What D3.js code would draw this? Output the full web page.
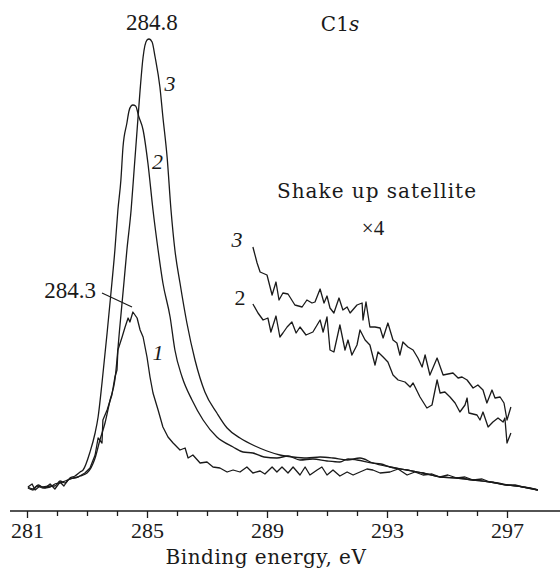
<!DOCTYPE html>
<html lang="en">
<head>
<meta charset="UTF-8">
<title>C1s spectra</title>
<script src="https://cdnjs.cloudflare.com/ajax/libs/d3/7.8.5/d3.min.js"></script>
<style>
  body { margin: 0; background: #fff; }
  svg { display: block; }
  text { font-family: 'Liberation Serif', serif; fill: #1a1a1a; }
  .words { font-family: 'DejaVu Serif', serif; }
  .trace { fill: none; stroke: #1a1a1a; stroke-width: 1.3; stroke-linejoin: round; }
</style>
</head>
<body>
<div id="chart"></div>
<script>
// binding energy (eV), intensity (arb. units)
const curve1 = [
  [281.03,1.3],[281.17,1.6],[281.27,1.0],[281.43,1.4],[281.60,1.2],[281.77,1.6],[281.93,1.1],
  [282.10,1.8],[282.23,1.4],[282.37,2.0],[282.53,2.2],[282.70,2.3],[282.93,2.7],[283.10,3.2],
  [283.27,4.5],[283.37,6.2],[283.50,5.7],[283.53,8.0],[283.67,9.0],[283.83,10.5],[283.93,12.3],
  [284.00,13.0],[284.03,15.0],[284.17,16.3],[284.27,17.3],[284.37,18.2],[284.43,17.8],[284.53,18.8],
  [284.67,18.2],[284.77,17.0],[284.87,16.3],[285.00,14.3],[285.10,12.3],[285.20,10.7],[285.37,9.0],
  [285.53,7.3],[285.70,6.3],[285.87,5.7],[286.10,5.0],[286.27,5.2],[286.37,4.2],[286.53,4.5],
  [286.77,3.7],[287.00,3.8],[287.20,3.3],[287.43,3.2],[287.67,2.8],[287.87,3.0],[288.10,2.8],
  [288.33,3.3],[288.53,2.7],[288.77,2.9],[288.93,2.6],[289.17,3.3],[289.33,2.8],[289.50,3.3],
  [289.70,2.7],[289.87,3.3],[290.10,2.5],[290.27,3.3],[290.43,2.5],[290.67,3.0],[290.83,3.3],
  [291.00,2.5],[291.20,3.0],[291.43,2.4],[291.67,2.8],[291.87,2.5],[292.10,2.8],[292.33,3.1],
  [292.53,3.0],[292.77,2.7],[293.10,2.8],[293.37,3.1],[293.67,2.5],[293.93,2.8],[294.20,2.5],
  [294.50,2.6],[294.77,2.3],[295.03,2.5],[295.33,2.2],[295.60,2.3],[295.87,2.0],[296.17,2.1],
  [296.43,1.8],[296.70,1.7],[297.00,1.5],[297.27,1.5],[297.53,1.3],[297.77,1.2],[298.03,1.0]
];

const curve2 = [
  [281.03,1.2],[281.20,1.0],[281.37,1.5],[281.53,1.3],[281.77,1.4],[281.93,1.4],[282.10,1.9],
  [282.27,1.7],[282.43,2.2],[282.60,2.4],[282.77,2.8],[282.87,3.0],[283.10,4.8],[283.27,6.7],
  [283.37,8.3],[283.50,11.7],[283.67,16.7],[283.83,21.7],[283.93,25.0],[284.03,29.0],[284.13,32.0],
  [284.20,35.3],[284.33,37.7],[284.40,38.9],[284.47,39.4],[284.53,39.5],[284.62,39.4],[284.73,38.3],
  [284.87,37.0],[285.03,33.7],[285.20,29.0],[285.37,25.0],[285.53,21.7],[285.77,18.3],[285.93,15.0],
  [286.17,12.3],[286.50,10.0],[286.87,8.0],[287.33,6.3],[287.87,5.3],[288.20,4.8],[288.53,4.7],
  [288.90,4.3],[289.33,4.2],[289.70,4.4],[290.10,4.0],[290.53,4.1],[291.00,3.9],[291.43,3.8],
  [291.70,4.1],[292.00,4.0],[292.53,3.7],[292.80,3.6],[293.10,3.3],[293.67,3.0],[294.20,2.7],
  [294.77,2.3],[295.33,2.2],[295.87,2.0],[296.43,1.8],[297.00,1.5],[297.53,1.3],[298.03,1.0]
];

const curve3 = [
  [281.03,1.3],[281.20,1.1],[281.33,1.4],[281.53,1.2],[281.77,1.3],[281.93,1.6],[282.10,1.7],
  [282.27,1.9],[282.43,2.1],[282.60,2.2],[282.77,2.4],[283.00,2.7],[283.27,4.2],[283.43,6.0],
  [283.60,7.7],[283.77,10.0],[283.93,12.0],[284.10,17.5],[284.23,21.7],[284.33,25.0],[284.47,29.0],
  [284.57,33.0],[284.67,37.0],[284.77,41.0],[284.87,44.3],[285.00,46.0],[285.07,46.1],[285.17,45.8],
  [285.27,44.3],[285.43,41.3],[285.53,38.3],[285.67,34.3],[285.80,29.0],[285.93,25.0],[286.10,21.7],
  [286.33,17.7],[286.60,14.0],[286.93,10.8],[287.33,8.7],[287.67,7.2],[288.10,6.2],[288.60,5.4],
  [289.00,4.9],[289.43,4.5],[289.87,4.3],[290.33,4.2],[290.77,4.3],[291.20,4.2],[291.67,4.0],
  [292.10,4.2],[292.53,3.7],[293.10,3.3],[293.67,3.0],[294.20,2.7],[294.77,2.3],[295.33,2.2],
  [295.87,2.0],[296.43,1.8],[297.00,1.5],[297.53,1.3],[298.03,1.0]
];

// shake-up satellite region, shown x4
const sat2 = [
  [288.53,19.6],[288.70,18.7],[288.87,18.0],[289.03,18.2],[289.13,16.8],[289.30,18.4],[289.43,16.3],
  [289.53,16.7],[289.67,17.3],[289.83,17.8],[289.97,16.7],[290.10,17.3],[290.30,16.5],[290.53,16.8],
  [290.77,18.0],[290.87,16.8],[291.00,18.3],[291.10,15.0],[291.23,14.8],[291.43,17.5],[291.60,15.0],
  [291.70,16.0],[291.83,14.5],[292.00,15.5],[292.10,17.0],[292.27,16.0],[292.43,15.5],[292.60,13.5],
  [292.70,14.8],[292.87,14.3],[293.03,13.8],[293.20,12.5],[293.37,12.0],[293.60,11.8],[293.77,11.3],
  [293.87,11.7],[294.10,10.3],[294.33,9.2],[294.50,9.5],[294.67,12.0],[294.77,10.7],[294.93,10.8],
  [295.10,10.3],[295.27,9.7],[295.43,8.8],[295.60,9.5],[295.67,10.2],[295.73,8.7],[296.00,8.5],
  [296.10,8.0],[296.20,8.8],[296.37,7.3],[296.53,7.8],[296.70,8.2],[296.87,7.8],[296.93,8.2],
  [297.00,5.7],[297.13,6.7]
];

const sat3 = [
  [288.53,25.3],[288.67,23.7],[288.77,22.8],[289.00,22.5],[289.17,20.5],[289.30,21.8],[289.40,20.0],
  [289.53,20.7],[289.70,20.6],[289.93,19.5],[290.17,19.3],[290.33,20.0],[290.50,19.7],[290.60,19.8],
  [290.77,21.1],[290.90,19.7],[291.00,20.4],[291.10,19.2],[291.23,18.7],[291.40,20.2],[291.53,19.0],
  [291.67,19.3],[291.77,18.7],[292.00,19.5],[292.17,19.7],[292.20,18.0],[292.30,19.8],[292.43,17.3],
  [292.60,17.3],[292.77,17.2],[292.87,16.2],[293.03,17.7],[293.20,16.0],[293.33,15.7],[293.43,14.5],
  [293.53,15.8],[293.70,15.3],[293.87,15.0],[294.03,14.2],[294.17,13.3],[294.27,14.5],[294.43,12.5],
  [294.67,14.2],[294.87,12.5],[295.20,12.7],[295.37,12.2],[295.50,12.3],[295.67,12.0],[295.87,11.2],
  [296.03,11.5],[296.20,11.0],[296.33,9.7],[296.50,11.0],[296.60,10.2],[296.77,10.3],[296.90,9.7],
  [297.00,8.0],[297.13,9.3]
];

const xTicks = d3.range(281, 298, 1);
const xLabels = [281, 285, 289, 293, 297];

const width = 560, height = 568;
const svg = d3.select("#chart").append("svg")
  .attr("width", width)
  .attr("height", height);

const x = d3.scaleLinear().domain([281, 297]).range([27, 507]);
const y = d3.scaleLinear().domain([0, 47]).range([500, 30]);
const axisY = 511;

// axis
svg.append("line")
  .attr("x1", 10).attr("x2", width)
  .attr("y1", axisY).attr("y2", axisY)
  .attr("stroke", "#1a1a1a").attr("stroke-width", 1.3);

const xAxis = d3.axisBottom(x)
  .tickValues(xTicks)
  .tickSize(6)
  .tickFormat(d => xLabels.includes(d) ? d : "");

const gx = svg.append("g")
  .attr("transform", `translate(0,${axisY})`)
  .call(xAxis);
gx.select(".domain").remove();
gx.selectAll(".tick line").attr("stroke", "#1a1a1a").attr("stroke-width", 1.3)
  .attr("y2", d => xLabels.includes(d) ? 7 : 5);
gx.selectAll(".tick text")
  .attr("y", 27).attr("dy", 0)
  .style("font-family", "'Liberation Serif', serif")
  .style("font-size", "22px")
  .attr("fill", "#1a1a1a");

svg.append("text")
  .attr("class", "words")
  .attr("x", 266).attr("y", 564)
  .attr("text-anchor", "middle")
  .style("font-size", "20px")
  .style("letter-spacing", "0.5px")
  .text("Binding energy, eV");

// traces
const lineLin = d3.line().x(d => x(d[0])).y(d => y(d[1]));
const lineSmooth = d3.line().x(d => x(d[0])).y(d => y(d[1])).curve(d3.curveMonotoneX);

svg.append("path").datum(curve1).attr("class", "trace").attr("d", lineLin);
svg.append("path").datum(curve2).attr("class", "trace").attr("d", lineSmooth);
svg.append("path").datum(curve3).attr("class", "trace").attr("d", lineSmooth);
svg.append("path").datum(sat2).attr("class", "trace").attr("d", lineLin);
svg.append("path").datum(sat3).attr("class", "trace").attr("d", lineLin);

// annotations
function label(px, py, txt, opts = {}) {
  return svg.append("text")
    .attr("class", opts.words ? "words" : null)
    .attr("x", px).attr("y", py)
    .attr("text-anchor", opts.anchor || "middle")
    .style("font-size", (opts.size || 22) + "px")
    .style("font-style", opts.italic ? "italic" : "normal")
    .style("letter-spacing", opts.spacing || null)
    .text(txt);
}

label(x(285.16), 30, "284.8", { size: 23 });
const c1s = svg.append("text").attr("class", "words").attr("x", 340).attr("y", 31)
  .attr("text-anchor", "middle").style("font-size", "20px");
c1s.append("tspan").text("C1");
c1s.append("tspan").style("font-style", "italic").text("s");

label(x(285.77), 91, "3", { italic: true });
label(x(285.35), 169, "2", { italic: true });
label(x(285.37), 360, "1", { italic: true });

label(96, 298, "284.3", { anchor: "end", size: 23 });
svg.append("line")
  .attr("x1", x(283.5)).attr("y1", y(20.7))
  .attr("x2", x(284.5)).attr("y2", y(19.3))
  .attr("stroke", "#1a1a1a").attr("stroke-width", 1.2);

label(377, 198, "Shake up satellite", { words: true, size: 20, spacing: "1px" });
label(373, 235, "\u00d74", { size: 21 });
label(x(288.0), 247, "3", { italic: true });
label(x(288.1), 305, "2");
</script>
</body>
</html>
